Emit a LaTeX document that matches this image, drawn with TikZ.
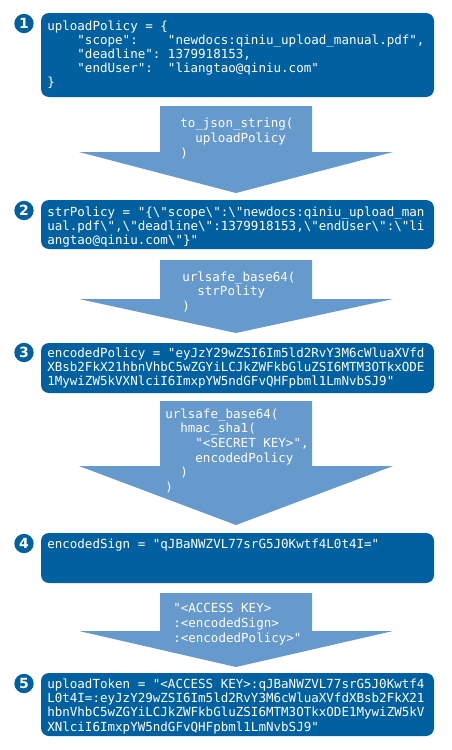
\documentclass[tikz,border=0pt]{standalone}
\usepackage{fontspec}
\setmonofont{DejaVu Sans Mono}
\newfontfamily\numfont{DejaVu Sans}
\usepackage{xcolor}
\usepackage{tikz}

\definecolor{boxblue}{HTML}{0060A0}
\definecolor{arrowblue}{HTML}{6699CC}
\newcommand\bsl{\textbackslash}

\tikzset{
  codebox/.style={fill=boxblue,rounded corners=6pt},
  flowarrow/.style={fill=arrowblue},
  codetext/.style={anchor=north west,inner sep=0pt,align=left,text=white,font=\ttfamily\fontsize{9.4}{10.6}\selectfont},
  arrowtext/.style={codetext,font=\ttfamily\fontsize{9.4}{10.9}\selectfont},
  stepdot/.style={circle,fill=boxblue,text=white,inner sep=0pt,minimum size=14.5pt,font=\numfont\bfseries\fontsize{10.5}{12}\selectfont}
}

\begin{document}
\begin{tikzpicture}[x=0.75pt,y=0.75pt,yscale=-1,xscale=1]
\useasboundingbox (0,0) rectangle (452,750);

% arrows between the steps
\fill[flowarrow] (160,106) -- (312,106) -- (312,152) -- (393,152) -- (236,193) -- (79,152) -- (160,152) -- cycle ;
\fill[flowarrow] (160,260) -- (312,260) -- (312,299) -- (393,299) -- (236,333) -- (79,299) -- (160,299) -- cycle ;
\fill[flowarrow] (160,401) -- (312,401) -- (312,466) -- (393,466) -- (236,525) -- (79,466) -- (160,466) -- cycle ;
\fill[flowarrow] (160,593) -- (312,593) -- (312,631) -- (393,631) -- (236,667) -- (79,631) -- (160,631) -- cycle ;

% step boxes
\fill[codebox] (41,13) rectangle (434,97) ;
\fill[codebox] (41,200) rectangle (434,249) ;
\fill[codebox] (41,343) rectangle (434,393) ;
\fill[codebox] (41,533) rectangle (434,583) ;
\fill[codebox] (41,673) rectangle (434,736) ;

% step numbers
\node[stepdot] (dotone) at (24,23.5) {1};
\node[stepdot] (dottwo) at (24,210.5) {2};
\node[stepdot] (dotthree) at (24,352.5) {3};
\node[stepdot] (dotfour) at (24,543.5) {4};
\node[stepdot] (dotfive) at (24,683.5) {5};

% box texts
\node[codetext] (policytext) at (47,20) {\strut uploadPolicy~=~\{\\
\hphantom{xxxx}"scope":~~~~"newdocs:qiniu\_upload\_manual.pdf",\\
\hphantom{xxxx}"deadline":~1379918153,\\
\hphantom{xxxx}"endUser":~~"liangtao@qiniu.com"\\
\}};

\node[codetext] (strtext) at (47,206) {\strut strPolicy~=~"\{\bsl"scope\bsl":\bsl"newdocs:qiniu\_upload\_man\\
ual.pdf\bsl",\bsl"deadline\bsl":1379918153,\bsl"endUser\bsl":\bsl"li\\
angtao@qiniu.com\bsl"\}"};

\node[codetext] (encpolicytext) at (47,347.5) {\strut encodedPolicy~=~"eyJzY29wZSI6Im5ld2RvY3M6cWluaXVfd\\
XBsb2FkX21hbnVhbC5wZGYiLCJkZWFkbGluZSI6MTM3OTkxODE\\
1MywiZW5kVXNlciI6ImxpYW5ndGFvQHFpbml1LmNvbSJ9"};

\node[codetext] (signtext) at (47,538) {\strut encodedSign~=~"qJBaNWZVL77srG5J0Kwtf4L0t4I="};

\node[codetext] (tokentext) at (47,678.5) {\strut uploadToken~=~"<ACCESS~KEY>:qJBaNWZVL77srG5J0Kwtf4\\
L0t4I=:eyJzY29wZSI6Im5ld2RvY3M6cWluaXVfdXBsb2FkX21\\
hbnVhbC5wZGYiLCJkZWFkbGluZSI6MTM3OTkxODE1MywiZW5kV\\
XNlciI6ImxpYW5ndGFvQHFpbml1LmNvbSJ9"};

% arrow texts
\node[arrowtext] (jsontext) at (180,117.5) {\strut to\_json\_string(\\
\hphantom{xx}uploadPolicy\\
)};

\node[arrowtext] (basetext) at (182,271) {\strut urlsafe\_base64(\\
\hphantom{xx}strPolity\\
)};

\node[arrowtext] (hmactext) at (165,408) {\strut urlsafe\_base64(\\
\hphantom{xx}hmac\_sha1(\\
\hphantom{xxxx}"<SECRET~KEY>",\\
\hphantom{xxxx}encodedPolicy\\
\hphantom{xx})\\
)};

\node[arrowtext] (jointext) at (173,602.5) {\strut "<ACCESS~KEY>\\
:<encodedSign>\\
:<encodedPolicy>"};

\end{tikzpicture}
\end{document}
